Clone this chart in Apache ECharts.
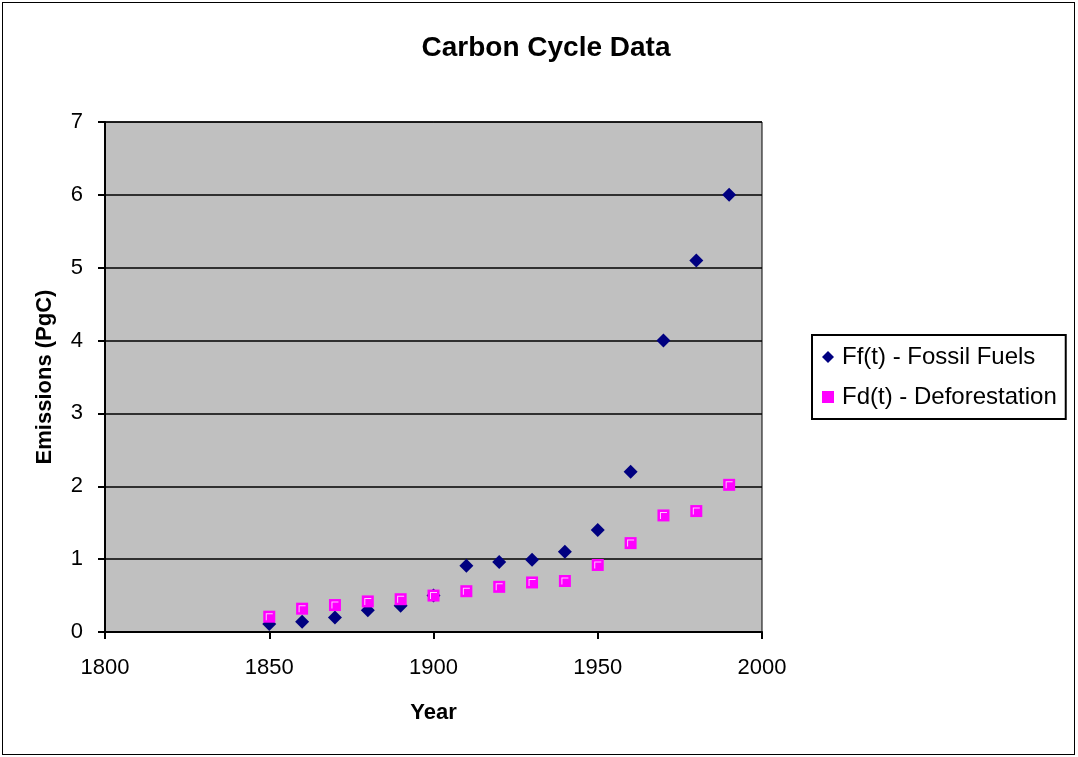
<!DOCTYPE html>
<html>
  <head>
    <meta charset="UTF-8">
    <title>Carbon Cycle Data</title>
    <script src="https://cdn.jsdelivr.net/npm/echarts@6/dist/echarts.min.js"></script>
    <style>
      html, body { margin: 0; padding: 0; background: #fff; }
      #frame { position: absolute; left: 2px; top: 2px; width: 1073px; height: 753px; border: 1px solid #000; box-sizing: border-box; }
      #chart { width: 1078px; height: 757px; }
    </style>
  </head>
  <body>
    <div id="chart"></div>
    <div id="frame"></div>
    <script>
const years = [1850, 1860, 1870, 1880, 1890, 1900, 1910, 1920, 1930, 1940, 1950, 1960, 1970, 1980, 1990];
// emissions, PgC
const fossilFuels = [0.11, 0.14, 0.2, 0.3, 0.36, 0.5, 0.91, 0.96, 0.99, 1.1, 1.4, 2.2, 4.0, 5.1, 6.0];
const deforestation = [0.21, 0.32, 0.37, 0.42, 0.45, 0.5, 0.56, 0.62, 0.68, 0.7, 0.92, 1.22, 1.6, 1.66, 2.02];

const FONT = 'Liberation Sans, Arial, sans-serif';

function pairs(xs, ys) {
  return xs.map((x, i) => [x, ys[i]]);
}

const chart = echarts.init(document.getElementById('chart'), null, {renderer: 'canvas'});

chart.setOption({
  animation: false,
  textStyle: {fontFamily: FONT, color: '#000'},
  title: {
    text: 'Carbon Cycle Data',
    left: 541, top: 29, textAlign: 'center',
    textStyle: {fontFamily: FONT, fontSize: 28, fontWeight: 'bold', color: '#000'}
  },
  grid: {
    left: 105, top: 122, width: 657, height: 510,
    show: true, backgroundColor: '#c0c0c0', borderColor: '#000', borderWidth: 1
  },
  legend: {
    orient: 'vertical',
    left: 812, top: 335,
    padding: [10, 9, 10, 10],
    itemGap: 16,
    itemWidth: 12, itemHeight: 12,
    borderColor: '#000', borderWidth: 2,
    textStyle: {fontFamily: FONT, fontSize: 24, color: '#000', padding: [0, 0, 0, 3]},
    data: [
      {name: 'Ff(t) - Fossil Fuels', icon: 'diamond'},
      {name: 'Fd(t) - Deforestation', icon: 'rect'}
    ]
  },
  xAxis: {
    type: 'value', min: 1800, max: 2000, interval: 50,
    name: 'Year', nameLocation: 'middle', nameGap: 70,
    nameTextStyle: {fontFamily: FONT, fontSize: 22, fontWeight: 'bold', color: '#000'},
    axisLine: {lineStyle: {color: '#000', width: 2}},
    axisTick: {show: true, inside: false, length: 7, lineStyle: {color: '#000', width: 2}},
    axisLabel: {fontFamily: FONT, fontSize: 22, color: '#000', margin: 25, formatter: v => String(v)},
    splitLine: {show: false}
  },
  yAxis: {
    type: 'value', min: 0, max: 7, interval: 1,
    name: 'Emissions (PgC)', nameLocation: 'middle', nameGap: 49, nameRotate: 90,
    nameTextStyle: {fontFamily: FONT, fontSize: 22, fontWeight: 'bold', color: '#000'},
    axisLine: {show: true, lineStyle: {color: '#000', width: 2}},
    axisTick: {show: true, inside: false, length: 7, lineStyle: {color: '#000', width: 2}},
    axisLabel: {fontFamily: FONT, fontSize: 22, color: '#000', margin: 22},
    splitLine: {show: true, lineStyle: {color: '#000', width: 1.5}}
  },
  series: [
    {
      name: 'Ff(t) - Fossil Fuels',
      type: 'scatter',
      symbol: 'diamond',
      symbolSize: 14,
      itemStyle: {color: '#000080', opacity: 1},
      data: pairs(years, fossilFuels),
      z: 2
    },
    {
      name: 'Fd(t) - Deforestation',
      type: 'scatter',
      symbol: 'rect',
      symbolSize: 12,
      itemStyle: {color: '#ff00ff', opacity: 1},
      data: pairs(years, deforestation),
      z: 3
    },
    {
      // light inner corner on the deforestation squares
      name: 'Fd highlight',
      type: 'scatter',
      symbol: 'path://M0,0 L7,0 L7,1 L1,1 L1,7 L0,7 Z',
      symbolSize: 7,
      silent: true,
      itemStyle: {color: '#ffc8ff', opacity: 1},
      data: pairs(years, deforestation),
      z: 4
    }
  ]
});
    </script>
  </body>
</html>
